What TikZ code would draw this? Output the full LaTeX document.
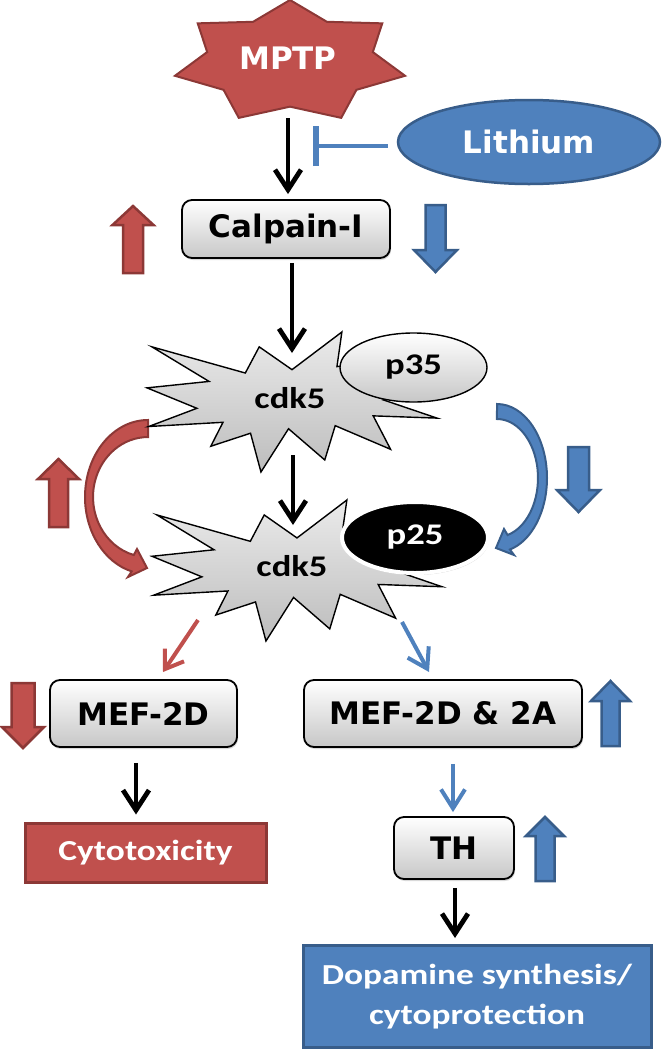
\documentclass[tikz,border=0pt]{standalone}
\usepackage{fontspec}
\setmainfont{DejaVu Sans}
\newfontfamily\calibfont[FakeStretch=1.22]{Carlito}
\usetikzlibrary{arrows.meta,shapes.geometric,shadows}

\definecolor{ppred}{HTML}{C0504D}
\definecolor{ppredline}{HTML}{8C3836}
\definecolor{ppblue}{HTML}{4F81BD}
\definecolor{ppblueline}{HTML}{385D8A}

% explosion outline in a unit box
\newcommand{\burstpath}{(0.5,0.269) -- (0.672,0) -- (0.655,0.247) -- (0.851,0.206) -- (0.773,0.339) -- (0.977,0.377) -- (0.815,0.485) -- (1,0.615) -- (0.780,0.599) -- (0.840,0.838) -- (0.649,0.669) -- (0.613,0.914) -- (0.488,0.691) -- (0.393,1) -- (0.357,0.723) -- (0.220,0.816) -- (0.262,0.645) -- (0.006,0.675) -- (0.172,0.545) -- (0,0.399) -- (0.214,0.353) -- (0.017,0.106) -- (0.339,0.293) -- (0.387,0.106) -- cycle}

\begin{document}
\begin{tikzpicture}[x=1pt,y=-1pt,
	gill/.style={font=\fontsize{31}{36}\selectfont\bfseries},
	calib/.style={font=\calibfont\fontsize{29}{40}\selectfont\bfseries},
	small/.style={font=\calibfont\fontsize{30}{34}\selectfont\bfseries},
	graybox/.style={draw=black, line width=1.8pt, rounded corners=10pt, top color=white, bottom color=black!22,
		drop shadow={opacity=0.3, shadow xshift=1pt, shadow yshift=-2pt}, gill},
	redbox/.style={draw=ppredline, line width=3pt, fill=ppred, text=white, calib},
	bluebox/.style={draw=ppblueline, line width=3pt, fill=ppblue, text=white, calib},
	burst/.style={draw=black, line width=1.4pt, top color=black!8, bottom color=black!26},
	block/.style={draw=#1line, line width=2.5pt, fill=#1},
	flow/.style={line width=4.8pt, -{Straight Barb[length=20pt,width=26pt]}},
	redflow/.style={ppred, line width=4pt, -{Straight Barb[length=17pt,width=23pt]}},
	blueflow/.style={ppblue, line width=4pt, -{Straight Barb[length=19pt,width=24pt]}},
	inhib/.style={ppblue, line width=4pt, -{Bar[width=40pt, line width=5.5pt]}}]
	\useasboundingbox (0,0) rectangle (664,1050);

	% MPTP star
	\foreach \i in {0,...,13}{
		\pgfmathsetmacro\r{ifthenelse(mod(\i,2)==0,1,0.72)}
		\coordinate (s\i) at ({290+118*\r*cos(-90+\i*180/7)},{62+62*\r*sin(-90+\i*180/7)});
	}
	\draw[block=ppred, line width=2pt] (s0) \foreach \i in {1,...,13}{-- (s\i)} -- cycle;
	\node[gill, text=white] (mptp) at (288,58) {MPTP};
	\coordinate (mptpbot) at (288,118);

	\node[ellipse, draw=ppblueline, line width=2.5pt, fill=ppblue, text=white, gill,
		minimum width=262pt, minimum height=84pt] (lith) at (529,142) {Lithium};
	\coordinate (lithbar) at (313,146);

	\node[graybox, minimum width=208pt, minimum height=58pt] (calpain) at (286,229) {Calpain-I};

	% curved arrows
	\draw[block=ppred, line width=2pt] (148,420) arc[start angle=270, end angle=105, x radius=63, y radius=77]
		-- (128,577) -- (147,568) -- (137,549) -- (133.8,555)
		arc[start angle=105, end angle=270, x radius=55, y radius=60] -- cycle;
	\draw[block=ppblue, line width=2pt] (497,404) arc[start angle=-90, end angle=75, x radius=50, y radius=74]
		-- (514,555) -- (496,548) -- (504,529) -- (507.6,535)
		arc[start angle=75, end angle=-90, x radius=41, y radius=59] -- cycle;

	% cdk5 bursts
	\draw[burst, shift={(147,332)}, xscale=290, yscale=140] \burstpath;
	\node[small] (cdkA) at (290,398) {cdk5};
	\node[ellipse, draw=black, line width=1.4pt, top color=white, bottom color=black!22, small,
		minimum width=147pt, minimum height=69pt] (pA) at (413.5,367.5) {p35};
	\coordinate (cdkAtop) at (292,353);
	\coordinate (cdkAlow) at (293,455);

	\draw[burst, shift={(152,500)}, xscale=290, yscale=141] \burstpath;
	\node[small] (cdkB) at (292,566) {cdk5};
	\node[ellipse, fill=black, draw=white, line width=4pt, text=white, small,
		minimum width=146pt, minimum height=71pt,
		drop shadow={opacity=0.35, shadow xshift=1pt, shadow yshift=-2pt}] (pB) at (415,537.5) {p25};
	\coordinate (cdkBtop) at (293,525);
	\coordinate (cdkBl) at (198,620);
	\coordinate (cdkBr) at (402,622);

	\node[graybox, minimum width=187pt, minimum height=67pt] (mefd) at (143.5,713.5) {MEF-2D};
	\node[graybox, minimum width=278pt, minimum height=67pt] (mefda) at (443,713.5) {MEF-2D \& 2A};
	\node[graybox, minimum width=120pt, minimum height=62pt] (th) at (454,848) {TH};
	\node[redbox, minimum width=241pt, minimum height=59pt] (cyto) at (145.5,852.5) {Cytotoxicity};
	\node[bluebox, minimum width=348pt, minimum height=102pt, align=center] (dopa) at (477,996.5)
		{Dopamine synthesis/\\cytoprotection};
	\coordinate (mefdin) at (163,672);
	\coordinate (mefdain) at (429,672);

	% up and down block arrows
	\foreach \x/\t/\h/\b/\s/\w/\c in {133/206/225/273/10/20.5/ppred, 58.5/459/479/527/9.5/20.5/ppred,
		23/748/727/683/11.5/21/ppred, 435.5/272/250/205/10/21.5/ppblue, 578.5/512/490/447/10.5/21.5/ppblue,
		610.5/681/701/746/9/19.5/ppblue, 545/817/836/881/9.5/19/ppblue}{
		\draw[block=\c] ({\x-\s},\b) -- ({\x-\s},\h) -- ({\x-\w},\h) -- (\x,\t) -- ({\x+\w},\h)
			-- ({\x+\s},\h) -- ({\x+\s},\b) -- cycle;
	}

	% connectors
	\draw[flow, shorten >=5pt] (mptpbot) -- (mptpbot |- calpain.north);
	\draw[inhib, shorten <=9pt] (lithbar -| lith.west) -- (lithbar);
	\draw[flow, shorten <=4pt] (calpain.south -| cdkAtop) -- (cdkAtop);
	\draw[flow] (cdkAlow) -- (cdkBtop);
	\draw[redflow] (cdkBl) -- (mefdin);
	\draw[blueflow] (cdkBr) -- (mefdain);
	\draw[flow, shorten <=15pt, shorten >=7pt] ([xshift=-7.5pt]mefd.south) -- ([xshift=-9.5pt]cyto.north);
	\draw[blueflow, shorten <=16pt, shorten >=4pt] ([xshift=10pt]mefda.south) -- ([xshift=-1pt]th.north);
	\draw[flow, shorten <=8pt, shorten >=6pt] ([xshift=1pt]th.south) -- ([xshift=-22pt]dopa.north);
\end{tikzpicture}
\end{document}
